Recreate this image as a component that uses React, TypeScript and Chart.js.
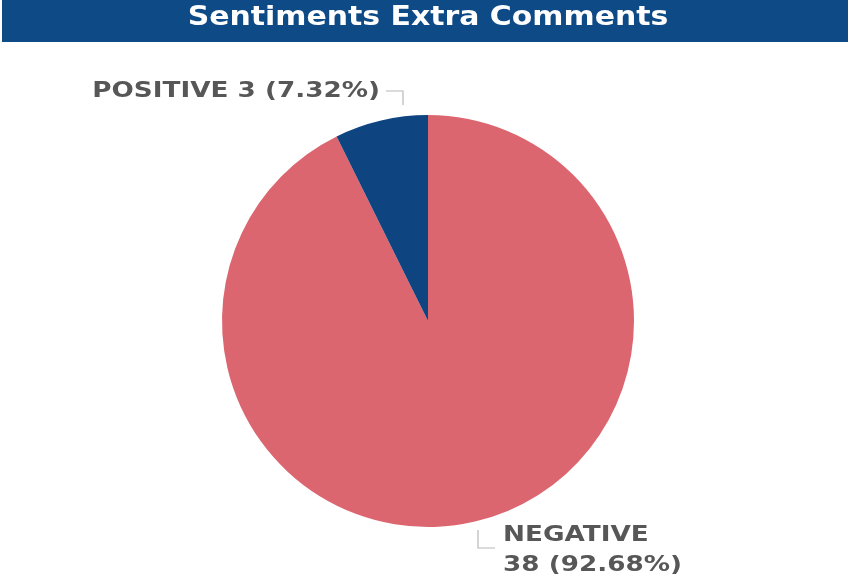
import React, { useEffect, useRef } from "react";
import { Chart, registerables } from "chart.js";

Chart.register(...registerables);

const TITLE = "Sentiments Extra Comments";
const categories = ["NEGATIVE", "POSITIVE"];
const counts = [38, 3];
const percents = ["92.68%", "7.32%"];
const sliceColors = ["#DC6670", "#0E4581"];

function scaledText(ctx: any, text: string, x: number, y: number, align: string, sx: number) {
  ctx.save();
  ctx.translate(x, y);
  ctx.scale(sx, 1);
  ctx.textAlign = align;
  ctx.fillText(text, 0, 0);
  ctx.restore();
}

const labelPlugin = {
  id: "customDecor",
  beforeDraw(chart: any) {
    const ctx = chart.ctx;
    ctx.save();
    ctx.fillStyle = "#ffffff";
    ctx.fillRect(0, 0, chart.width, chart.height);
    ctx.fillStyle = "#0E4A86";
    ctx.fillRect(2, 0, chart.width - 5, 42);
    ctx.fillStyle = "#ffffff";
    ctx.font = "bold 26px 'DejaVu Sans', Verdana, sans-serif";
    ctx.textBaseline = "middle";
    scaledText(ctx, TITLE, 428, 18, "center", 1.15);
    ctx.restore();
  },
  afterDraw(chart: any) {
    const ctx = chart.ctx;
    const arc = chart.getDatasetMeta(0).data[0];
    if (!arc) return;
    const cx = arc.x;
    const cy = arc.y;
    ctx.save();
    ctx.strokeStyle = "#b8b8b8";
    ctx.lineWidth = 1.2;
    // positive leader
    ctx.beginPath();
    ctx.moveTo(cx - 42, cy - 230);
    ctx.lineTo(cx - 25, cy - 230);
    ctx.lineTo(cx - 25, cy - 216);
    ctx.stroke();
    // negative leader
    ctx.beginPath();
    ctx.moveTo(cx + 50, cy + 209);
    ctx.lineTo(cx + 50, cy + 227);
    ctx.lineTo(cx + 67, cy + 227);
    ctx.stroke();

    ctx.fillStyle = "#575757";
    ctx.font = "bold 21px 'DejaVu Sans', Verdana, sans-serif";
    ctx.textBaseline = "middle";
    scaledText(ctx, `${categories[1]} ${counts[1]} (${percents[1]})`, cx - 48, cy - 229, "right", 1.25);
    scaledText(ctx, categories[0], cx + 75, cy + 215, "left", 1.25);
    scaledText(ctx, `${counts[0]} (${percents[0]})`, cx + 75, cy + 245, "left", 1.25);
    ctx.restore();
  },
};

export default function App() {
  const ref = useRef<HTMLCanvasElement | null>(null);
  useEffect(() => {
    if (!ref.current) return;
    const chart = new Chart(ref.current, {
      type: "pie",
      data: {
        labels: categories,
        datasets: [
          {
            data: counts,
            backgroundColor: sliceColors,
            borderWidth: 0,
          },
        ],
      },
      options: {
        animation: false,
        responsive: false,
        layout: { padding: { top: 115, bottom: 59, left: 100, right: 95 } },
        plugins: {
          legend: { display: false },
          title: { display: false },
          tooltip: { enabled: false },
        },
      },
      plugins: [labelPlugin],
    });
    return () => chart.destroy();
  }, []);
  return (
    <div style={{ position: "absolute", left: 0, top: 0, width: 851, height: 586 }}>
      <canvas ref={ref} width={851} height={586} style={{ width: 851, height: 586 }} />
    </div>
  );
}
